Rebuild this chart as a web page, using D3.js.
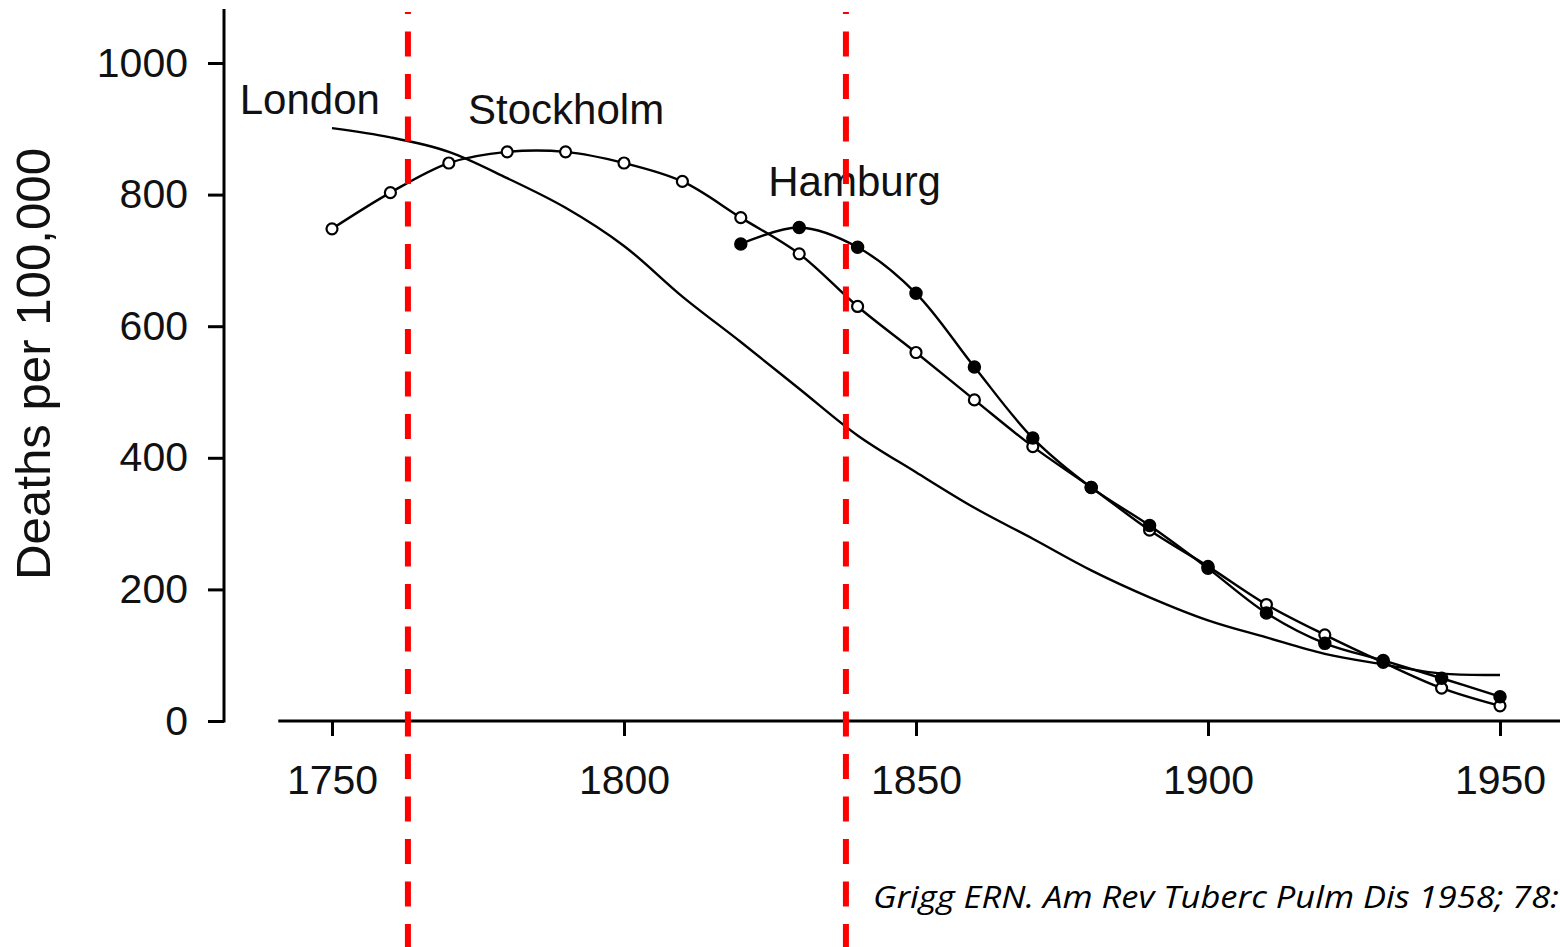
<!DOCTYPE html>
<html>
<head>
<meta charset="utf-8">
<script src="https://cdn.jsdelivr.net/npm/d3@7"></script>
<style>
  html, body { margin: 0; padding: 0; background: #fff; }
  svg { display: block; }
</style>
</head>
<body>
<div id="chart"></div>
<script>
// decades 1750..1950
const years = d3.range(1750, 1951, 10);
const london = [901, 887, 865, 825, 780, 722, 645, 576, 505, 434, 378, 324, 277, 229, 188, 153, 127, 102, 86, 72, 70];
const stockholm = [748, 803, 848, 865, 865, 848, 820, 765, 710, 630, 560, 488, 417, 355, 290, 235, 177, 131, 89, 50, 23];
const hamburgYears = d3.range(1820, 1951, 10);
const hamburg = [725, 750, 720, 650, 538, 430, 355, 297, 232, 164, 118, 92, 65, 37];
const markYears = [1763, 1838];
const yTicks = [0, 200, 400, 600, 800, 1000];
const xTicks = [1750, 1800, 1850, 1900, 1950];
const cityLabels = [
  { name: 'London', year: 1734.2, value: 922 },
  { name: 'Stockholm', year: 1773.3, value: 907 },
  { name: 'Hamburg', year: 1824.7, value: 798 }
];

const W = 1560, H = 947;
const svg = d3.select('#chart').append('svg')
  .attr('width', W).attr('height', H);

const x = d3.scaleLinear().domain([1750, 1950]).range([332, 1500]);
const y = d3.scaleLinear().domain([0, 1000]).range([721, 63]);

const font = '"Liberation Sans", Arial, sans-serif';

// y axis
const yAxis = svg.append('g')
  .attr('transform', `translate(224,0)`)
  .call(d3.axisLeft(y).tickValues(yTicks).tickFormat(d3.format('d'))
    .tickSize(16).tickPadding(20).tickSizeOuter(0));
yAxis.select('.domain').remove();
yAxis.append('line')
  .attr('x1', 0).attr('x2', 0)
  .attr('y1', y(1082)).attr('y2', y(0) + 1.5)
  .attr('stroke', '#000').attr('stroke-width', 3);
yAxis.selectAll('.tick line').attr('stroke-width', 3);
yAxis.selectAll('.tick text')
  .attr('font-family', font).attr('font-size', 41).attr('fill', '#111');

// x axis
const xAxis = svg.append('g')
  .attr('transform', `translate(0,${y(0)})`)
  .call(d3.axisBottom(x).tickValues(xTicks).tickFormat(d3.format('d'))
    .tickSize(15).tickPadding(29).tickSizeOuter(0));
xAxis.select('.domain').remove();
xAxis.append('line')
  .attr('x1', x(1740.8)).attr('x2', W)
  .attr('y1', 0).attr('y2', 0)
  .attr('stroke', '#000').attr('stroke-width', 3);
xAxis.selectAll('.tick line').attr('stroke-width', 3);
xAxis.selectAll('.tick text')
  .attr('font-family', font).attr('font-size', 41).attr('fill', '#111');

// y label
svg.append('text')
  .attr('transform', `translate(50,364) rotate(-90)`)
  .attr('text-anchor', 'middle')
  .attr('font-family', font).attr('font-size', 49)
  .attr('textLength', 432).attr('lengthAdjust', 'spacingAndGlyphs')
  .attr('fill', '#111')
  .text('Deaths per 100,000');

const line = d3.line()
  .x(d => x(d[0])).y(d => y(d[1]))
  .curve(d3.curveCatmullRom.alpha(0.5));

const londonPts = years.map((yr, i) => [yr, london[i]]);
const stockPts = years.map((yr, i) => [yr, stockholm[i]]);
const hamPts = hamburgYears.map((yr, i) => [yr, hamburg[i]]);

[londonPts, stockPts, hamPts].forEach(pts => {
  svg.append('path').datum(pts)
    .attr('d', line).attr('fill', 'none')
    .attr('stroke', '#000').attr('stroke-width', 2.4);
});

svg.append('g').selectAll('circle').data(stockPts).join('circle')
  .attr('cx', d => x(d[0])).attr('cy', d => y(d[1])).attr('r', 5.5)
  .attr('fill', '#fff').attr('stroke', '#000').attr('stroke-width', 2.2);
svg.append('g').selectAll('circle').data(hamPts).join('circle')
  .attr('cx', d => x(d[0])).attr('cy', d => y(d[1])).attr('r', 6)
  .attr('fill', '#000').attr('stroke', '#000').attr('stroke-width', 1.5);

// city labels
svg.append('g').selectAll('text').data(cityLabels).join('text')
  .attr('x', d => x(d.year)).attr('y', d => y(d.value))
  .attr('font-family', font).attr('font-size', 42).attr('fill', '#111')
  .text(d => d.name);

// red dashed markers
svg.append('g').selectAll('line').data(markYears).join('line')
  .attr('x1', d => x(d)).attr('x2', d => x(d))
  .attr('y1', 12).attr('y2', H)
  .attr('stroke', '#ff0000').attr('stroke-width', 6)
  .attr('stroke-dasharray', '25,17.5').attr('stroke-dashoffset', 23);

// citation
svg.append('text')
  .attr('x', 873).attr('y', 908)
  .attr('font-family', '"Open Sans", "Noto Sans", sans-serif')
  .attr('font-style', 'italic').attr('font-size', 31)
  .attr('textLength', 686).attr('lengthAdjust', 'spacingAndGlyphs')
  .attr('fill', '#000')
  .text('Grigg ERN. Am Rev Tuberc Pulm Dis 1958; 78:');
</script>
</body>
</html>
